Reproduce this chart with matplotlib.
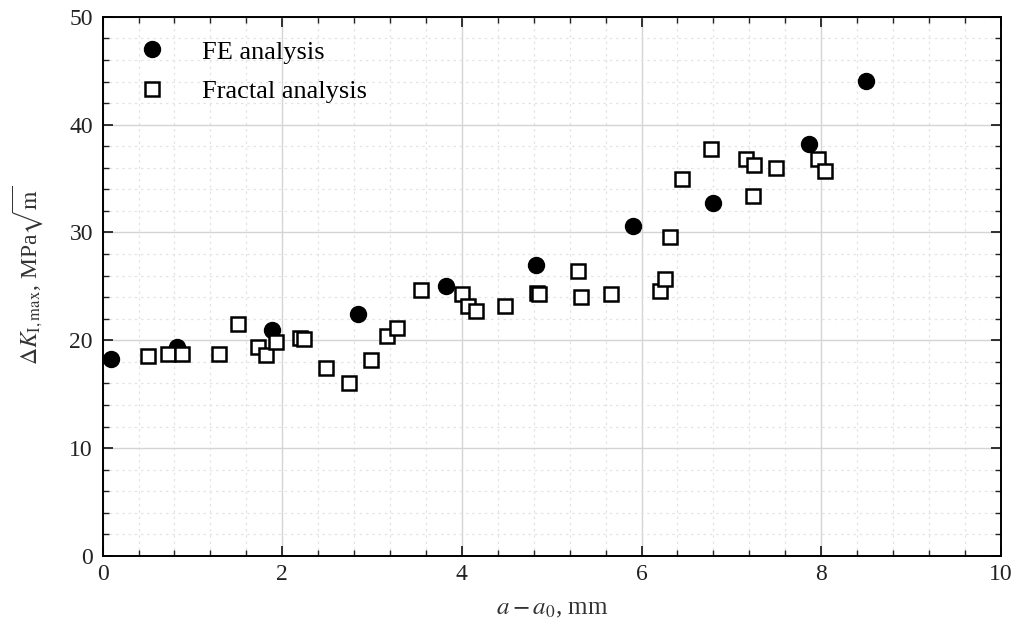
import matplotlib.pyplot as plt
from matplotlib.ticker import MultipleLocator
import numpy as np

plt.rcParams['font.family'] = ['Liberation Serif', 'DejaVu Serif']
plt.rcParams['mathtext.fontset'] = 'stix'

# FE analysis results
fe_x = [0.09, 0.83, 1.89, 2.84, 3.82, 4.82, 5.91, 6.80, 7.86, 8.50]
fe_y = [18.3, 19.4, 21.0, 22.4, 25.0, 27.0, 30.6, 32.7, 38.2, 44.1]

# fractal analysis results
fr_x = [0.51, 0.73, 0.88, 1.30, 1.51, 1.73, 1.82, 1.93, 2.20, 2.24,
        2.49, 2.74, 2.99, 3.17, 3.28, 3.55, 4.00, 4.07, 4.16, 4.48,
        4.84, 4.86, 5.29, 5.33, 5.66, 6.21, 6.26, 6.32, 6.45, 6.77,
        7.16, 7.25, 7.24, 7.50, 7.97, 8.04]
fr_y = [18.5, 18.7, 18.7, 18.7, 21.5, 19.4, 18.6, 19.8, 20.2, 20.1,
        17.4, 16.0, 18.2, 20.4, 21.1, 24.7, 24.3, 23.2, 22.7, 23.2,
        24.4, 24.3, 26.4, 24.0, 24.3, 24.6, 25.7, 29.6, 35.0, 37.7,
        36.8, 36.3, 33.4, 36.0, 36.8, 35.7]

fig = plt.figure(figsize=(10.16, 6.26), dpi=100)
ax = fig.add_axes([0.101, 0.112, 0.884, 0.861])

ax.plot(fe_x, fe_y, 'o', color='black', markersize=11.5, label='FE analysis', zorder=3)
ax.plot(fr_x, fr_y, 's', mfc='white', mec='black', mew=1.8, markersize=9.5,
        label='Fractal analysis', zorder=4)

ax.set_xlim(0, 10)
ax.set_ylim(0, 50)
ax.xaxis.set_major_locator(MultipleLocator(2))
ax.xaxis.set_minor_locator(MultipleLocator(0.4))
ax.yaxis.set_major_locator(MultipleLocator(10))
ax.yaxis.set_minor_locator(MultipleLocator(2))

ax.grid(which='major', color='#d4d4d4', lw=1.0)
ax.grid(which='minor', color='#e4e4e4', lw=0.9, ls=(0, (2, 3)))
ax.set_axisbelow(True)

ax.tick_params(which='both', direction='in', top=True, right=True, labelsize=17,
               colors='#222222')
ax.tick_params(which='major', length=7.5, width=1.3)
ax.tick_params(which='minor', length=4.5, width=1.0)
ax.tick_params(axis='x', pad=6)
ax.tick_params(axis='y', pad=7)
for s in ax.spines.values():
    s.set_linewidth(1.4)

ax.set_xlabel(r'$a - a_0$, mm', fontsize=18, color='#333333', labelpad=9)
ax.set_ylabel(r'$\Delta K_{\mathrm{I,max}}$, MPa$\sqrt{\mathrm{m}}$', fontsize=17,
              color='#333333')
ax.yaxis.set_label_coords(-0.064, 0.52)

ax.legend(loc='upper left', bbox_to_anchor=(0.026, 0.957), frameon=False, fontsize=19,
          handlelength=2.0, handletextpad=0.89, labelspacing=0.62,
          borderaxespad=0, borderpad=0)

fig.savefig('out.png', dpi=100)
